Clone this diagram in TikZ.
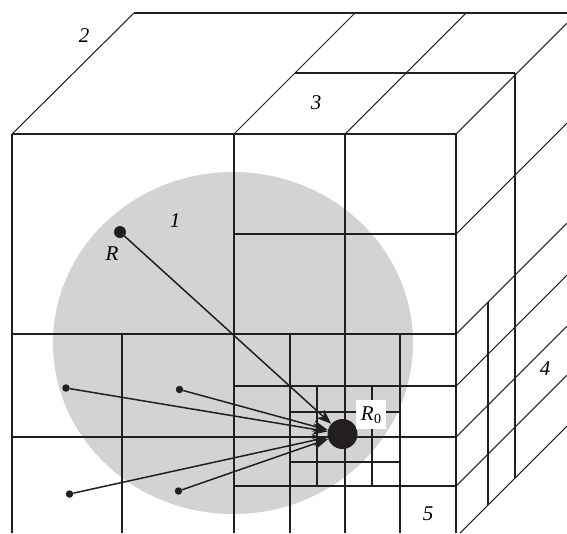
\documentclass[tikz,border=0pt]{standalone}
\usepackage{fontspec}
\setmainfont{Liberation Serif}
\usetikzlibrary{arrows.meta}
\definecolor{ink}{HTML}{231F20}
\definecolor{sphere}{HTML}{D1D3D4}
\tikzset{
  grid/.style={draw=ink,line width=1.2pt,line cap=butt},
  edge/.style={draw=ink,line width=1.05pt},
  dot/.style={circle,fill=ink,inner sep=0pt,minimum size=#1},
  arrowline/.style={draw=ink,line width=1.5pt,-{Stealth[length=15pt,width=11.5pt,inset=4.5pt]}},
  lab/.style={font=\fontsize{21pt}{23pt}\selectfont\itshape,inner sep=0pt}
}
\begin{document}
\begin{tikzpicture}[x=1pt,y=-1pt]
\useasboundingbox (0,0) rectangle (567,533);
\fill[sphere] (233,343) ellipse [x radius=180,y radius=171];
% front face: verticals
\foreach \x in {12,234,345,456} \draw[grid] (\x,134) -- (\x,533);
\foreach \x in {122,290,400} \draw[grid] (\x,334) -- (\x,533);
\foreach \x in {317,372} \draw[grid] (\x,386) -- (\x,486);
% front face: horizontals
\foreach \y in {134,334,437} \draw[grid] (12,\y) -- (456,\y);
\foreach \y in {234,386,486} \draw[grid] (234,\y) -- (456,\y);
\foreach \y in {412,462} \draw[grid] (290,\y) -- (400,\y);
% top face
\draw[grid] (134,13) -- (567,13);
\draw[edge] (12,134) -- (134,13);
\draw[edge] (234,134) -- (355,13);
\draw[edge] (345,134) -- (466,13);
\draw[edge] (456,134) -- (567,23);
\draw[grid] (295,73) -- (515,73);
% right face
\foreach \y in {234,334,386,437,486} \draw[edge] (456,\y) -- (567,\y-111);
\draw[edge] (460,533) -- (567,426);
\draw[grid] (515,73) -- (515,478);
\draw[grid] (488,302) -- (488,505);
% points
\node[dot=12pt] (r) at (120,232) {};
\node[dot=30pt] (r0) at (342.5,434) {};
\node[dot=7.5pt] (a) at (66,388) {};
\node[dot=7.5pt] (b) at (179.5,389.5) {};
\node[dot=7.5pt] (c) at (69.5,494) {};
\node[dot=7.5pt] (d) at (178.5,491) {};
\draw[arrowline] (r) -- (r0);
\draw[arrowline] (a) -- (r0);
\draw[arrowline] (b) -- (r0);
\draw[arrowline] (c) -- (r0);
\draw[arrowline] (d) -- (r0);
% labels
\fill[white] (356,400) rectangle (386,428.5);
\node[lab] (lr0) at (371,415) {R\kern0.5pt\raisebox{-3.5pt}{\fontsize{14pt}{15pt}\selectfont\upshape 0}};
\node[lab] (l1) at (175,221) {1};
\node[lab] (l2) at (84,36) {2};
\node[lab] (l3) at (316,103) {3};
\node[lab] (l4) at (545,369) {4};
\node[lab] (l5) at (428,514) {5};
\node[lab] (lr) at (112,254) {R};
\end{tikzpicture}
\end{document}
